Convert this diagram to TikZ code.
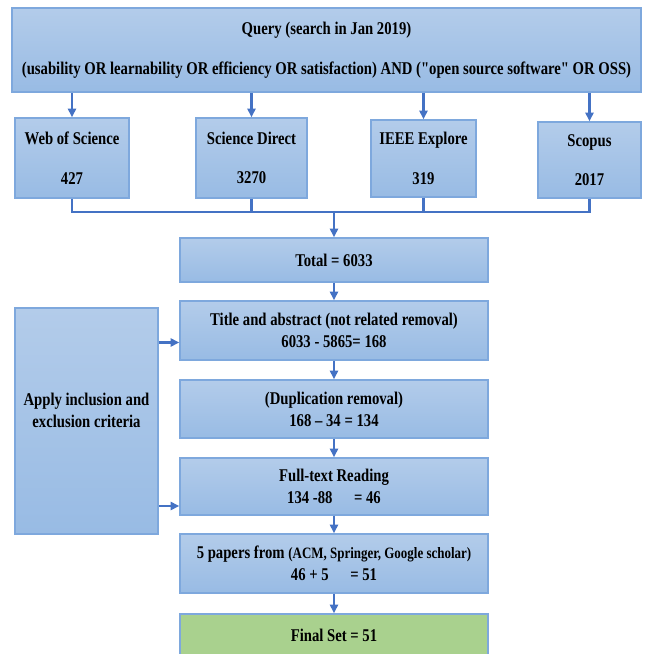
\documentclass[tikz,border=0pt]{standalone}
\usepackage{fontspec}
\setmainfont{Liberation Serif}[FakeStretch=0.82,Ligatures=TeXOff]
\usetikzlibrary{arrows.meta}

\definecolor{boxtop}{HTML}{B3CCEA}
\definecolor{boxbot}{HTML}{98BBE4}
\definecolor{boxline}{HTML}{7EA8DD}
\definecolor{arrowblue}{HTML}{4472C4}
\definecolor{finalgreen}{HTML}{A9D18E}

\begin{document}
\begin{tikzpicture}[x=0.02cm,y=-0.02cm,
    box/.style={draw=boxline,line width=0.9pt,top color=boxtop,bottom color=boxbot,
      inner sep=0pt,align=center,font=\fontsize{10.2}{12.5}\selectfont\bfseries},
    arr/.style={draw=arrowblue,line width=1.3pt,-{Triangle[length=0.17cm,width=0.16cm]}},
    link/.style={draw=arrowblue,line width=1.3pt}]
    \useasboundingbox (0,0) rectangle (649,654);
    % query and the four libraries
    \node[box,minimum width=12.58cm,minimum height=1.68cm] (query) at (326.5,50)
      {Query (search in Jan 2019)\\[10pt]
       (usability OR learnability OR efficiency OR satisfaction) AND ("open source software" OR OSS)};
    \node[box,minimum width=2.28cm,minimum height=1.6cm] (wos) at (72,158) {Web of Science\\[10pt]427};
    \node[box,minimum width=2.22cm,minimum height=1.6cm] (sd) at (251.5,158) {Science Direct\\[10pt]3270};
    \node[box,minimum width=2.10cm,minimum height=1.54cm] (ieee) at (423.5,158.5) {IEEE Explore\\[10pt]319};
    \node[box,minimum width=2.06cm,minimum height=1.52cm] (scopus) at (589.5,160) {Scopus\\[10pt]2017};
    \foreach \lib in {wos,sd,ieee,scopus}
      \draw[arr] (query.south -| \lib) -- (\lib);
    % merge into one line
    \coordinate (bus) at (334,212);
    \draw[link] (wos.south) -- (wos.south |- bus) -- (scopus.south |- bus) -- (scopus.south);
    \draw[link] (sd.south) -- (sd.south |- bus);
    \draw[link] (ieee.south) -- (ieee.south |- bus);
    % screening steps
    \node[box,minimum width=6.16cm,minimum height=0.88cm] (total) at (334,260) {Total = 6033};
    \node[box,minimum width=6.16cm,minimum height=1.18cm] (title) at (334,330.5)
      {Title and abstract (not related removal)\\6033 - 5865= 168};
    \node[box,minimum width=6.16cm,minimum height=1.16cm] (dup) at (334,409)
      {(Duplication removal)\\168 – 34 = 134};
    \node[box,minimum width=6.16cm,minimum height=1.14cm] (full) at (334,486.5)
      {Full-text Reading\\134 -88\quad\ = 46};
    \node[box,minimum width=6.16cm,minimum height=1.18cm] (papers) at (334,563.5)
      {5 papers from {\fontsize{9}{12.5}\selectfont(ACM, Springer, Google scholar)}\\46 + 5\quad\ = 51};
    \node[box,top color=finalgreen,bottom color=finalgreen,minimum width=6.16cm,minimum height=0.84cm] (final) at (334,635)
      {Final Set = 51};
    \node[box,minimum width=2.86cm,minimum height=4.52cm] (apply) at (86.5,421)
      {Apply inclusion and\\exclusion criteria\\\mbox{}};
    \draw[arr] (bus) -- (total);
    \draw[arr] (total) -- (title);
    \draw[arr] (title) -- (dup);
    \draw[arr] (dup) -- (full);
    \draw[arr] (full) -- (papers);
    \draw[arr] (papers) -- (final);
    % criteria feed two steps
    \coordinate (titlein) at ([yshift=-0.24cm]title.west);
    \coordinate (fullin) at ([yshift=-0.39cm]full.west);
    \draw[arr] (apply.east |- titlein) -- (titlein);
    \draw[arr] (apply.east |- fullin) -- (fullin);
\end{tikzpicture}
\end{document}
